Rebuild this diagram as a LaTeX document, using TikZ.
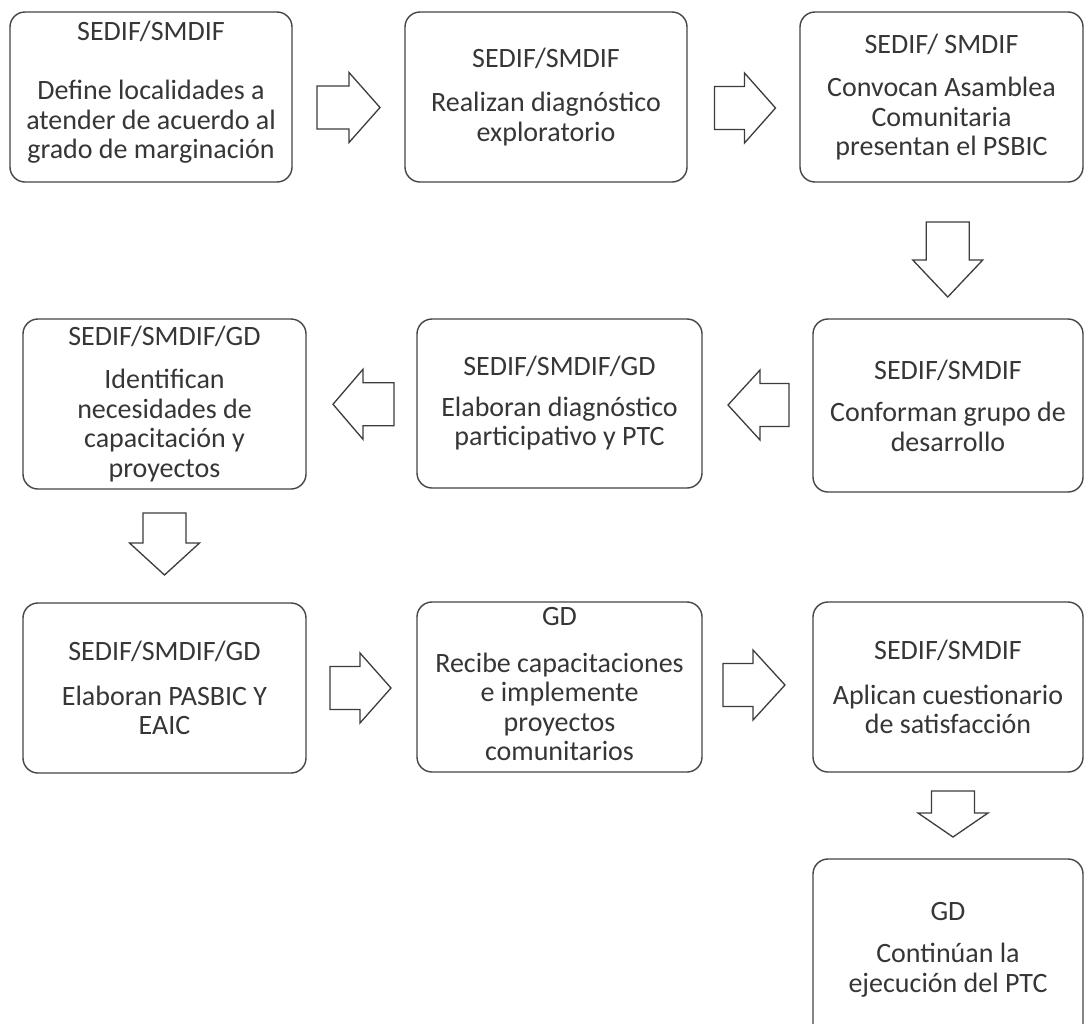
\documentclass[tikz,border=0pt]{standalone}
\usepackage{fontspec}
\setmainfont{Carlito}
\usetikzlibrary{calc}
\definecolor{boxline}{HTML}{454545}
\definecolor{arrline}{HTML}{3C3C3C}
\definecolor{txt}{HTML}{363636}
\begin{document}
\begin{tikzpicture}[x=1pt,y=-1pt,
  box/.style={draw=boxline, line width=1.4pt, rounded corners=15pt, fill=white,
    align=center, text=txt, font=\fontsize{28}{29.5}\selectfont, inner sep=2pt},
  blk/.style={draw=arrline, line width=1.3pt, fill=white, line join=miter},
  pics/barrow/.style n args={2}{code={
    \path[blk] ({-#1/2},-21.5) -- ({#1/2-#2},-21.5) -- ({#1/2-#2},-35) -- ({#1/2},0)
      -- ({#1/2-#2},35) -- ({#1/2-#2},21.5) -- ({-#1/2},21.5) -- cycle;}}]
\useasboundingbox (0,0) rectangle (1086,1023);
\fill[white] (0,0) rectangle (1086,1023);
\clip (0,0) rectangle (1086,1023);

% row 1
\node[box, minimum width=282pt, minimum height=170pt] (b1) at (151,97)
  {SEDIF/SMDIF\\[30pt]Define localidades a\\atender de acuerdo al\\grado de marginación\\[-15.5pt]\mbox{}};
\node[box, minimum width=282pt, minimum height=170pt] (b2) at (546,97)
  {SEDIF/SMDIF\\[15pt]Realizan diagnóstico\\exploratorio};
\node[box, minimum width=283pt, minimum height=170pt] (b3) at (941.5,97)
  {SEDIF/ SMDIF\\[14pt]Convocan Asamblea\\Comunitaria\\presentan el PSBIC};

% row 2
\node[box, minimum width=270pt, minimum height=173pt] (b4) at (948,405.5)
  {SEDIF/SMDIF\\[13pt]Conforman grupo de\\desarrollo};
\node[box, minimum width=285pt, minimum height=169pt] (b5) at (559.5,403.5)
  {SEDIF/SMDIF/GD\\[11pt]Elaboran diagnóstico\\participativo y PTC};
\node[box, minimum width=283pt, minimum height=170pt] (b6) at (164.5,404)
  {SEDIF/SMDIF/GD\\[14pt]Identifican\\necesidades de\\capacitación y\\proyectos};

% row 3
\node[box, minimum width=283pt, minimum height=170pt] (b7) at (164.5,688)
  {SEDIF/SMDIF/GD\\[15pt]Elaboran PASBIC Y\\EAIC};
\node[box, minimum width=285pt, minimum height=170pt] (b8) at (559.5,687)
  {GD\\[17pt]Recibe capacitaciones\\e implemente\\proyectos\\comunitarios\\[-24pt]\mbox{}};
\node[box, minimum width=270pt, minimum height=170pt] (b9) at (948,687)
  {SEDIF/SMDIF\\[15pt]Aplican cuestionario\\de satisfacción};

% last
\node[box, minimum width=270pt, minimum height=181pt] (b10) at (948,949.5)
  {GD\\[13pt]Continúan la\\ejecución del PTC};

% block arrows
\pic (a1) at ($(b1.east)!0.5!(b2.west)+(0,10.5)$) {barrow={63}{31}};
\pic (a2) at ($(b2.east)!0.5!(b3.west)+(1.5,11)$) {barrow={61}{31}};
\pic[rotate=-90] (a3) at ($(b3.south)!0.5!(b4.north)+(3,9)$) {barrow={75}{37}};
\pic[rotate=180] (a4) at ($(b4.west)!0.5!(b5.east)+(1,0.5)$) {barrow={61}{32}};
\pic[rotate=180] (a5) at ($(b5.west)!0.5!(b6.east)+(2,0.5)$) {barrow={61}{30}};
\pic[rotate=-90] (a6) at ($(b6.south)!0.5!(b7.north)+(0,-2)$) {barrow={62}{32}};
\pic (a7) at ($(b7.east)!0.5!(b8.west)+(-1,0.5)$) {barrow={61}{31}};
\pic (a8) at ($(b8.east)!0.5!(b9.west)+(-3.5,-2)$) {barrow={62}{32}};
\pic[rotate=-90] (a9) at ($(b9.south)!0.5!(b10.north)+(5,-1.5)$) {barrow={46}{24}};
\end{tikzpicture}
\end{document}
